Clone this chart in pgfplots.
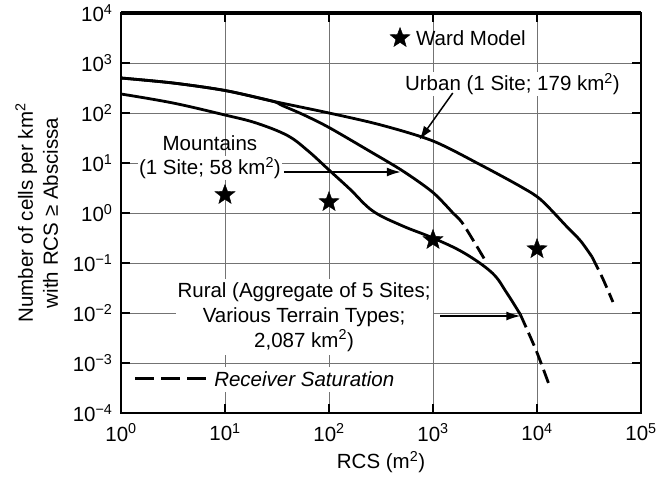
\documentclass[border=0pt]{standalone}
\usepackage{pgfplots}
\pgfplotsset{compat=1.18}
\usepackage{fontspec}
\setmainfont{Liberation Sans}
\usetikzlibrary{arrows.meta}
\newcommand\ff{\fontsize{20.5bp}{25bp}\selectfont}
\pgfdeclareplotmark{fstar}{%
 \pgfpathmoveto{\pgfpointpolar{90}{\pgfplotmarksize}}%
 \pgfpathlineto{\pgfpointpolar{126}{0.42\pgfplotmarksize}}%
 \pgfpathlineto{\pgfpointpolar{162}{\pgfplotmarksize}}%
 \pgfpathlineto{\pgfpointpolar{198}{0.42\pgfplotmarksize}}%
 \pgfpathlineto{\pgfpointpolar{234}{\pgfplotmarksize}}%
 \pgfpathlineto{\pgfpointpolar{270}{0.42\pgfplotmarksize}}%
 \pgfpathlineto{\pgfpointpolar{306}{\pgfplotmarksize}}%
 \pgfpathlineto{\pgfpointpolar{342}{0.42\pgfplotmarksize}}%
 \pgfpathlineto{\pgfpointpolar{18}{\pgfplotmarksize}}%
 \pgfpathlineto{\pgfpointpolar{54}{0.42\pgfplotmarksize}}%
 \pgfpathclose\pgfusepathqfillstroke}
\begin{document}
\begin{tikzpicture}
\begin{axis}[name=ax, scale only axis, width=520bp, height=400bp,
  xmode=log, ymode=log, xmin=1, xmax=1e5, ymin=1e-4, ymax=1e4,
  clip=false,
  xtick={1,10,100,1000,10000,100000},
  xticklabels={10\textsuperscript{0},10\textsuperscript{1},10\textsuperscript{2},10\textsuperscript{3},10\textsuperscript{4},10\textsuperscript{5}},
  ytick={1e-4,1e-3,1e-2,1e-1,1,10,100,1000,10000},
  yticklabels={10\textsuperscript{−4},10\textsuperscript{−3},10\textsuperscript{−2},10\textsuperscript{−1},10\textsuperscript{0},10\textsuperscript{1},10\textsuperscript{2},10\textsuperscript{3},10\textsuperscript{4}},
  xminorticks=false, yminorticks=false,
  grid=major, major grid style={draw=black!55, line width=0.8bp},
  tick align=inside, major tick length=9bp,
  every tick/.style={black, line width=1.5bp},
  axis line style={line width=2bp},
  ticklabel style={font=\ff},
  xticklabel style={yshift=-7bp},
  yticklabel style={xshift=-5bp},
  label style={font=\ff},
  xlabel={RCS (m\textsuperscript{2})},
  xlabel style={at={(axis description cs:0.5,-0.1225)}, anchor=center},
  ylabel={Number of cells per km\textsuperscript{2}\\with RCS ≥ Abscissa},
  ylabel style={at={(axis description cs:-0.162,0.5)}, anchor=center, align=center},
]
% Urban
\addplot[black, line width=2.8bp, smooth, tension=0.5] coordinates {
 (1,501.2) (3.162,398.1) (10,281.8) (28.18,173.8) (100,100) (316.2,57.54)
 (1000,27.54) (2884,9.12) (7079,3.311) (10965,1.820) (19498,0.5248)
 (26303,0.2754) (33884,0.1318)};
\addplot[black, line width=2.8bp, smooth, tension=0.5, dash pattern=on 14bp off 6bp] coordinates {
 (33884,0.1318) (42658,0.0501) (53703,0.0166)};
% Mountains
\addplot[black, line width=2.8bp, smooth, tension=0.5] coordinates {
 (1,501.2) (3.162,398.1) (10,281.8) (28.18,173.8) (35.48,141.3) (57.54,91.2)
 (100,51.29) (239.9,17.78) (512.9,6.918) (1000,2.570) (1585,0.955)};
\addplot[black, line width=2.8bp, smooth, tension=0.5, dash pattern=on 14bp off 6bp] coordinates {
 (1585,0.955) (1950,0.60) (3162,0.1148)};
% Rural
\addplot[black, line width=2.8bp, smooth, tension=0.6] coordinates {
 (1,239.9) (3.162,158.5) (10,91.2) (19.95,63.1) (39.81,35.48) (63.1,17.38)
 (100,7.244) (158.5,3.02) (263.0,1.10) (501.2,0.56) (1000,0.3162)
 (1995,0.1585) (3715,0.0631) (5129,0.02512) (6918,0.00933)};
\addplot[black, line width=2.8bp, smooth, tension=0.5, dash pattern=on 14bp off 6bp] coordinates {
 (6918,0.00933) (9772,0.00182) (12882,0.000398)};
% Ward model stars
\addplot[only marks, mark=fstar, mark size=10.5bp, black] coordinates {
 (10,2.3) (100,1.66) (1000,0.29) (10000,0.19)};
\addplot[only marks, mark=fstar, mark size=10.5bp, black] coordinates {(482,3162)};
\node[anchor=west, font=\ff, inner sep=0pt] at (rel axis cs:0.567,0.9375) {Ward Model};
% Urban label
\node[anchor=west, font=\ff, fill=white, inner sep=1pt] at (rel axis cs:0.544,0.8225) {Urban (1 Site; 179 km\textsuperscript{2})};
\draw[line width=1.5bp, -{Latex[length=14bp,width=9bp]}] (rel axis cs:0.638,0.80) -- (axis cs:740,29);
% Mountains label
\node[font=\ff, inner sep=0pt] at (rel axis cs:0.171,0.675) {Mountains};
\node[font=\ff, fill=white, inner sep=1pt] at (rel axis cs:0.171,0.6125) {(1 Site; 58 km\textsuperscript{2})};
\draw[line width=1.5bp, -{Latex[length=14bp,width=9bp]}] (rel axis cs:0.313,0.6025) -- (rel axis cs:0.538,0.6025);
% Rural label
\node[font=\ff, fill=white, align=center, inner xsep=2bp, inner ysep=3bp] at (rel axis cs:0.352,0.24) {Rural (Aggregate of 5 Sites;\\Various Terrain Types;\\2,087 km\textsuperscript{2})};
\draw[line width=1.5bp, -{Latex[length=14bp,width=9bp]}] (rel axis cs:0.614,0.2425) -- (rel axis cs:0.768,0.2425);
% Receiver saturation key
\fill[white] (rel axis cs:0.013,0.052) rectangle (rel axis cs:0.545,0.115);
\draw[black, line width=3bp, dash pattern=on 19bp off 7bp] (rel axis cs:0.027,0.085) -- (rel axis cs:0.165,0.085);
\node[anchor=west, font=\ff\itshape, inner sep=0pt] at (rel axis cs:0.179,0.085) {Receiver Saturation};
\draw[line width=3.5bp] (rel axis cs:0,1) -- (rel axis cs:1,1);
\end{axis}
\pgfresetboundingbox
\path (ax.south west) ++(-121bp,-69bp) rectangle ++(656bp,482bp);
\end{tikzpicture}
\end{document}
